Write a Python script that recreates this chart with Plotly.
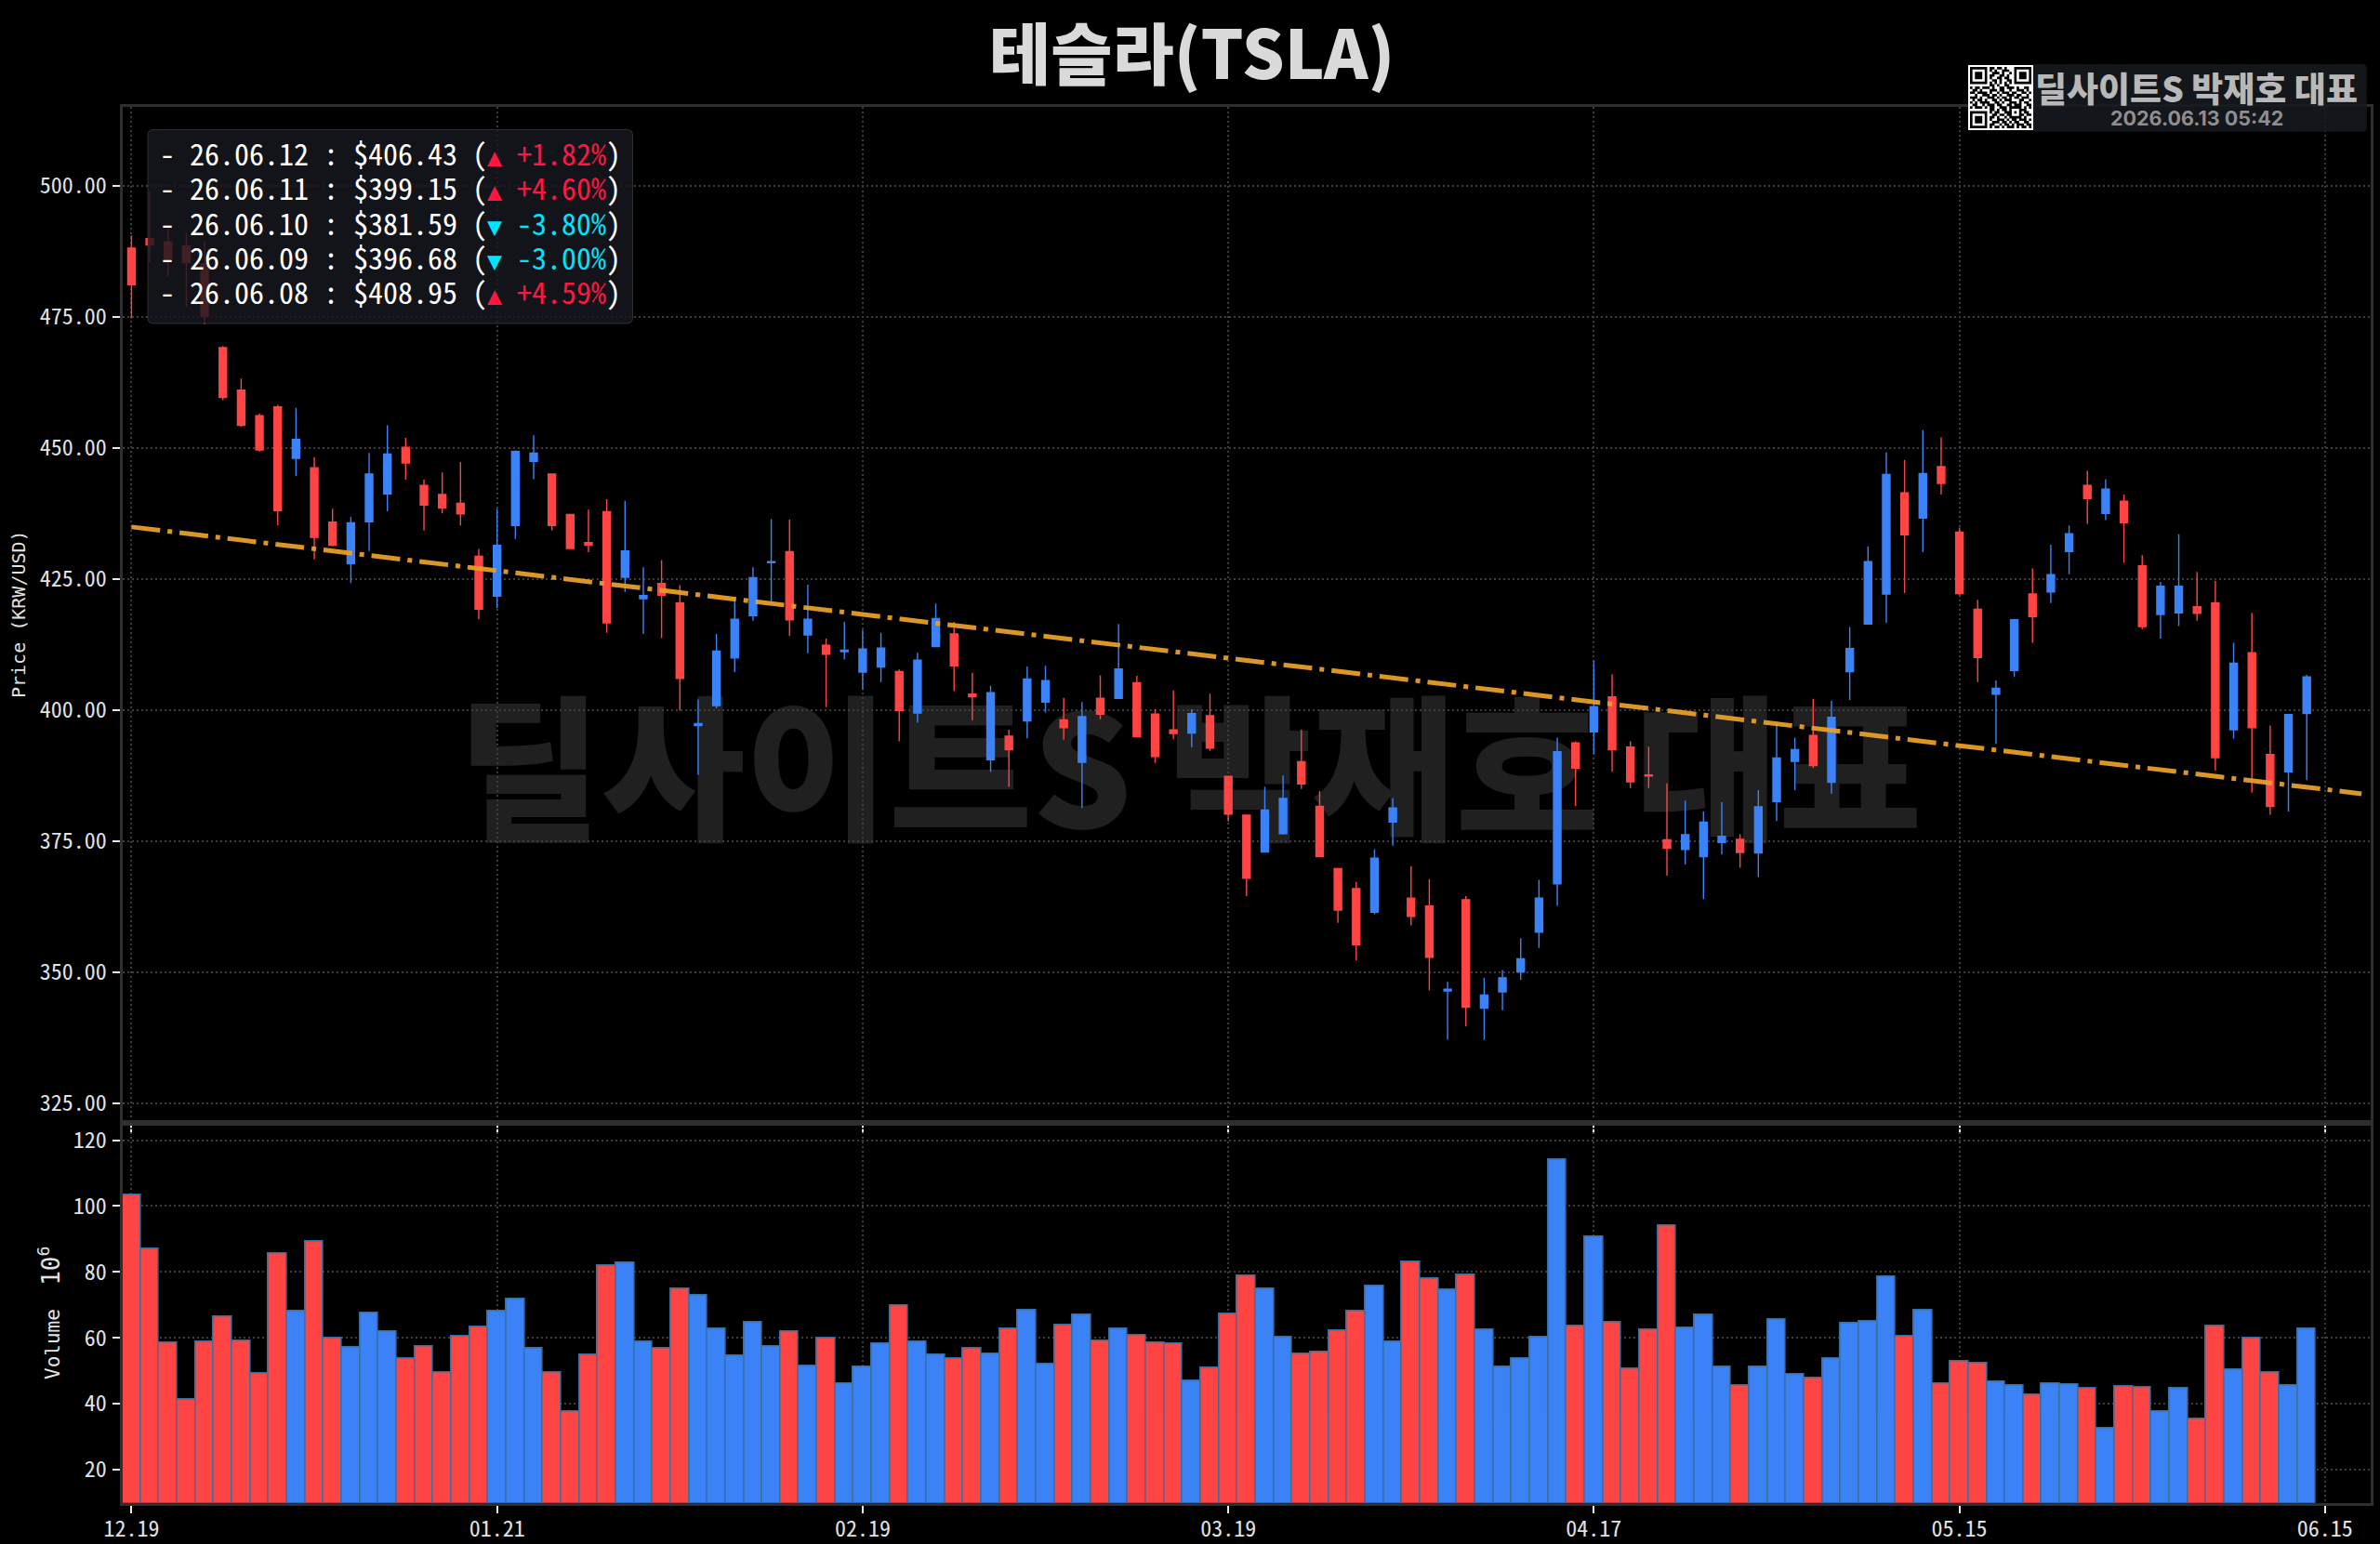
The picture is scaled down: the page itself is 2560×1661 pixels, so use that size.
import plotly.graph_objects as go

W, H = 2560, 1661
UP_C, DN_C = "#3B82F6", "#FF4444"

highs = [490.5,498.9,492.1,491.0,489.3,469.4,463.2,456.5,458.2,457.6,448.2,438.4,436.8,449.0,454.3,451.9,443.9,445.3,447.3,430.7,
438.4,449.5,452.4,445.0,437.4,438.2,440.2,439.9,427.2,428.6,423.8,402.0,414.5,421.6,427.2,436.4,436.3,423.9,413.6,416.8,
415.3,414.7,407.7,410.9,420.3,416.8,407.1,404.6,396.2,408.3,408.4,402.3,401.5,406.6,416.4,406.5,400.1,403.7,400.1,403.1,
387.3,379.9,385.3,387.5,396.2,384.5,369.7,367.2,373.4,383.2,370.2,367.7,348.1,364.5,348.9,350.4,356.4,367.6,394.7,394.0,
409.4,406.8,394.0,393.0,386.0,382.7,380.6,382.4,376.3,384.7,397.7,394.7,402.1,401.7,415.8,431.2,449.1,447.7,453.4,452.0,
434.8,421.0,405.6,417.2,427.0,431.5,435.2,445.6,444.0,441.1,429.5,424.4,433.5,426.3,424.6,412.8,418.5,397.0,399.1,406.7]
lows = [474.7,485.4,482.7,476.8,473.6,459.1,454.0,449.3,435.2,444.6,428.7,431.2,424.2,430.3,437.9,443.9,434.2,437.5,435.2,417.3,
419.4,432.6,444.0,434.2,430.7,430.1,414.7,422.5,414.5,413.7,399.9,387.6,400.3,407.2,417.0,420.7,414.1,410.8,400.5,409.6,
403.9,405.3,394.0,397.6,412.1,403.6,398.0,388.2,385.3,394.6,399.5,394.3,381.3,398.2,402.2,394.7,389.9,394.4,392.9,392.2,
378.7,364.5,372.8,376.2,384.9,372.0,359.4,352.2,361.0,374.1,358.9,346.5,337.1,339.6,337.1,342.7,348.5,354.6,362.6,381.7,
391.6,388.2,385.1,385.1,368.4,370.5,363.9,372.4,369.9,368.1,378.8,384.7,388.9,384.0,401.9,416.4,416.6,422.3,430.1,441.1,
421.9,405.3,393.5,406.3,412.8,420.4,425.9,435.5,436.2,428.1,415.4,413.6,416.0,417.0,388.4,394.5,384.2,380.0,380.6,386.6]
body_top = [488.1,489.9,489.3,488.5,485.1,469.1,461.0,456.1,457.8,451.6,446.2,435.8,435.7,445.0,448.8,450.1,442.8,441.1,439.4,429.3,
431.4,449.3,449.0,445.0,437.3,431.9,437.8,430.3,421.8,424.1,420.4,397.4,411.2,417.3,425.2,428.3,430.2,417.3,412.3,411.4,
411.6,411.8,407.3,409.5,417.4,414.5,403.0,403.3,395.0,405.9,405.6,398.1,398.7,402.2,407.8,405.2,399.2,396.2,399.3,398.9,
387.3,379.9,380.9,383.1,390.1,381.6,369.7,365.9,371.7,381.3,364.1,362.6,346.7,363.8,345.6,348.9,352.5,364.1,392.0,393.7,
400.6,402.5,392.9,387.6,375.2,376.2,378.6,375.9,375.3,381.5,390.8,392.4,395.1,398.6,411.7,428.3,444.9,441.4,445.1,446.4,
433.9,419.2,404.1,417.2,422.1,425.8,433.6,442.8,442.1,439.8,427.5,423.6,423.6,419.7,420.4,408.9,410.9,391.5,399.1,406.3]
body_bot = [481.1,488.7,486.1,485.3,475.1,459.6,454.3,449.6,438.0,448.0,432.9,431.4,427.9,435.9,441.2,447.1,439.1,438.5,437.4,419.2,
421.7,435.2,447.4,435.2,430.8,431.4,416.6,425.3,421.2,421.9,406.0,397.0,400.8,409.9,418.0,428.1,417.2,414.3,410.6,411.1,
407.2,408.2,399.9,399.4,412.1,408.4,402.5,390.5,392.4,397.9,401.5,396.6,390.0,399.2,402.2,394.9,391.1,395.5,395.6,392.7,
380.1,367.9,372.9,376.4,385.9,372.0,361.8,355.2,361.4,378.6,360.6,352.8,346.4,343.3,343.1,346.2,350.0,357.6,366.8,388.9,
395.8,392.4,386.3,387.4,373.6,373.4,372.0,374.7,372.8,372.7,382.5,390.2,389.4,386.2,407.3,416.4,422.1,433.4,436.6,443.2,
422.2,410.0,403.0,407.5,417.8,422.5,430.2,440.3,437.5,435.7,415.9,418.2,418.5,418.4,390.9,396.2,396.6,381.6,388.2,399.3]
volumes = [103.4,87.0,58.4,41.3,58.8,66.4,59.2,49.2,85.6,68.1,89.2,59.8,57.2,67.4,61.8,53.6,57.3,49.4,60.4,63.3,
68.2,71.7,56.8,49.4,37.7,54.8,81.8,82.8,58.9,56.8,74.8,73.0,62.8,54.6,64.6,57.4,61.9,51.5,59.8,46.1,
51.2,58.1,69.8,58.8,54.9,53.6,56.8,55.2,62.6,68.4,52.1,64.0,67.0,59.2,62.7,60.9,58.5,58.2,46.9,51.0,
67.2,78.7,74.8,60.3,55.2,55.6,62.1,68.1,75.8,58.8,83.0,77.9,74.6,79.0,62.4,51.3,53.6,60.1,114.1,63.6,
90.8,64.7,50.6,62.5,94.1,63.0,66.9,51.1,45.4,51.2,65.5,48.9,47.8,53.7,64.5,65.1,78.6,60.6,68.4,46.1,
52.8,52.4,46.6,45.5,42.7,46.2,45.8,44.7,32.6,45.3,44.9,37.6,44.6,35.3,63.5,50.3,60.0,49.6,45.5,62.7]
direction = ("DDDDDDDDDUDDUUUDDDDD" "UUUDDDDUUDDUUUUUDUDU" "UUDUUDDUDUUDUDUDDDUD"
             "DDUUDDDDUUDDUDUUUUUD" "UDDDDUUUDUUUDUUUUDUD" "DDUUDUUDUDDUUDDUDDUU")
tick_pos = [0, 20, 40, 60, 80, 100, 120]
tick_labels = ["12.19", "01.21", "02.19", "03.19", "04.17", "05.15", "06.15"]
price_ticks = [325, 350, 375, 400, 425, 450, 475, 500]
volume_ticks = [20, 40, 60, 80, 100, 120]
trend_x = [0, 122]
trend_y = [434.9, 384.0]
recent_dates = ["26.06.12", "26.06.11", "26.06.10", "26.06.09", "26.06.08"]
recent_close = [406.43, 399.15, 381.59, 396.68, 408.95]
recent_pct = [1.82, 4.60, -3.80, -3.00, 4.59]
qr_rows = [
"1111111011011010001111111","1000001010100111001000001","1011101001110100101011101",
"1011101011001101001011101","1011101010011011001011101","1000001001101001101000001",
"1111111010101010101111111","0000000011010011000000000","1011011101001101110100110",
"0110100011101100100111010","1101111010010111011001101","0010011101101001110110010",
"1110100111010110101101110","0101101001101011100011001","1010111100110100111010110",
"0110010111011001101110011","1011101011001110111110101","0000000011010110100011100",
"1111111010110011101010110","1000001001101101100011011","1011101011010010111110100",
"1011101010011101011011101","1011101001110110101100110","1000001011001011010111011",
"1111111010110101110101101"]

xs = list(range(len(highs)))
opens = [b if d == "U" else t for t, b, d in zip(body_top, body_bot, direction)]
closes = [t if d == "U" else b for t, b, d in zip(body_top, body_bot, direction)]
bar_colors = [UP_C if d == "U" else DN_C for d in direction]

def px(x): return x / W
def py(y): return 1 - y / H

LEFT, RIGHT, TOP, MID, BOT = 131.6, 2550, 114.6, 1207.5, 1616.7
MONO = "Noto Sans Mono CJK KR, DejaVu Sans Mono"
AXM = "DejaVu Sans Mono"
KR = "Noto Sans CJK KR"
GRID = "#3c3c3c"
SPINE = "#2e2e2e"
TICKC = "#e8e8e8"
TXT = "#e2e2e2"

fig = go.Figure()
fig.add_trace(go.Candlestick(x=xs, open=opens, high=highs, low=lows, close=closes, xaxis="x", yaxis="y",
    increasing=dict(line=dict(color=UP_C, width=1.4), fillcolor=UP_C),
    decreasing=dict(line=dict(color=DN_C, width=1.4), fillcolor=DN_C),
    showlegend=False))
fig.add_trace(go.Scatter(x=trend_x, y=trend_y, mode="lines", xaxis="x", yaxis="y", showlegend=False,
    line=dict(color="rgba(232,158,40,0.95)", width=5, dash="31px,8px,5px,8px")))
fig.add_trace(go.Bar(x=xs, y=volumes, xaxis="x2", yaxis="y2", showlegend=False, width=1,
    marker=dict(color=bar_colors, line=dict(color="#3A6F9E", width=1.6))))

common_x = dict(range=[-0.5, 122.5], tickmode="array", tickvals=tick_pos, ticktext=tick_labels, automargin=False,
    showgrid=True, gridcolor=GRID, griddash="2px,3px", gridwidth=1.5, zeroline=False,
    showline=True, mirror=True, linecolor=SPINE, linewidth=3,
    ticks="outside", ticklen=8, tickwidth=2, tickcolor=TICKC,
    tickfont=dict(family=MONO, size=24, color=TXT))
common_y = dict(showgrid=True, gridcolor=GRID, griddash="2px,3px", gridwidth=1.5, zeroline=False, automargin=False,
    showline=True, mirror=True, linecolor=SPINE, linewidth=3,
    ticks="outside", ticklen=8, tickwidth=2, tickcolor=TICKC, ticklabelstandoff=1,
    tickfont=dict(family=MONO, size=24, color=TXT), tickmode="array")

shapes = []
annotations = []

# watermark below the grid
shapes.append(dict(type="rect", xref="paper", yref="paper", layer="below",
    x0=px(380), x1=px(2180), y0=py(959), y1=py(729), line=dict(width=0), fillcolor="rgba(0,0,0,0)",
    label=dict(text="딜사이트S 박재호 대표", textposition="middle center",
               font=dict(family=KR, size=168, color="#202020", weight=900))))

# recent closes panel
def rounded(x0, y0, x1, y1, r):
    a, b, c, d = px(x0), py(y0), px(x1), py(y1)
    rx, ry = r / W, r / H
    return (f"M{a+rx},{b} L{c-rx},{b} Q{c},{b} {c},{b-ry} L{c},{d+ry} Q{c},{d} {c-rx},{d} "
            f"L{a+rx},{d} Q{a},{d} {a},{d+ry} L{a},{b-ry} Q{a},{b} {a+rx},{b} Z")
shapes.append(dict(type="path", xref="paper", yref="paper", layer="above", path=rounded(159, 139.5, 680.5, 348, 6),
    fillcolor="rgba(22,25,31,0.82)", line=dict(color="rgba(70,74,80,0.6)", width=1)))
rows = []
for d, c, p in zip(recent_dates, recent_close, recent_pct):
    col = "#FF1744" if p > 0 else "#00E5FF"
    arrow = "▲" if p > 0 else "▼"
    rows.append(f"<span style='font-size:32px'>- {d} : ${c:.2f} ("
                f"<span style='color:{col};font-family:DejaVu Sans Mono;font-size:26.5px'>{arrow} </span>"
                f"<span style='color:{col}'>{p:+.2f}%</span>)</span>")
annotations.append(dict(text="<br>".join(rows), xref="paper", yref="paper", x=px(169.5), y=py(238.5),
    xanchor="left", yanchor="middle", align="left", showarrow=False,
    font=dict(family=MONO, size=28.7, color="#ffffff")))

# logo box and QR
shapes.append(dict(type="path", xref="paper", yref="paper", layer="above", path=rounded(2186, 69, 2545.7, 141.7, 5),
    fillcolor="rgba(22,25,31,0.88)", line=dict(width=0)))
shapes.append(dict(type="rect", xref="paper", yref="paper", layer="above", x0=px(2117), x1=px(2187), y0=py(140), y1=py(70),
    fillcolor="#ffffff", line=dict(width=0)))
m = 66 / 25
path = ""
for r, row in enumerate(qr_rows):
    c = 0
    while c < 25:
        if row[c] == "1":
            e = c
            while e < 25 and row[e] == "1":
                e += 1
            x0, x1 = px(2119 + c * m), px(2119 + e * m)
            y0, y1 = py(72 + r * m), py(72 + (r + 1) * m)
            path += f"M{x0},{y0} L{x1},{y0} L{x1},{y1} L{x0},{y1} Z "
            c = e
        else:
            c += 1
shapes.append(dict(type="path", xref="paper", yref="paper", layer="above", path=path, fillcolor="#000000", line=dict(width=0)))

annotations += [
    dict(text="테슬라(TSLA)", xref="paper", yref="paper", x=px(1282), y=py(54), xanchor="center", yanchor="middle",
         showarrow=False, font=dict(family=KR, size=72, color="#DADADA", weight=900)),
    dict(text="딜사이트S 박재호 대표", xref="paper", yref="paper", x=px(2362), y=py(94), xanchor="center", yanchor="middle",
         showarrow=False, font=dict(family=KR, size=37, color="#B8B8B8", weight=900)),
    dict(text="<b>2026.06.13 05:42</b>", xref="paper", yref="paper", x=px(2363), y=py(127), xanchor="center", yanchor="middle",
         showarrow=False, font=dict(family="Inter", size=21.5, color="#8E8E8E")),
    dict(text="Price (KRW/USD)", xref="paper", yref="paper", x=px(20), y=py(661), xanchor="center", yanchor="middle",
         textangle=-90, showarrow=False, font=dict(family=AXM, size=20, color=TXT)),
    dict(text="Volume  <span style='font-size:26px'>10<sup>6</sup></span>", xref="paper", yref="paper", x=px(53), y=py(1413), xanchor="center", yanchor="middle",
         textangle=-90, showarrow=False, font=dict(family=AXM, size=21, color=TXT)),
]

fig.update_layout(
    width=W, height=H, margin=dict(l=0, r=0, t=0, b=0, pad=0, autoexpand=False), autosize=False,
    paper_bgcolor="#000000", plot_bgcolor="#000000", showlegend=False, bargap=0, boxgap=0.42,
    xaxis=dict(common_x, domain=[px(LEFT), px(RIGHT)], anchor="y", showticklabels=False, rangeslider=dict(visible=False)),
    xaxis2=dict(common_x, domain=[px(LEFT), px(RIGHT)], anchor="y2", ticklabelstandoff=-4),
    yaxis=dict(common_y, domain=[py(MID), py(TOP)], anchor="x", range=[321.3, 515.1], tickvals=price_ticks,
               ticktext=[f"{v:.2f}" for v in price_ticks]),
    yaxis2=dict(common_y, domain=[py(BOT), py(MID)], anchor="x2", range=[9.9, 125.4], tickvals=volume_ticks,
                ticktext=[str(v) for v in volume_ticks]),
    shapes=shapes, annotations=annotations,
)
fig.write_html("out.html", config={"displayModeBar": False},
               post_script="document.body.style.margin='0';document.body.style.overflow='hidden';")
